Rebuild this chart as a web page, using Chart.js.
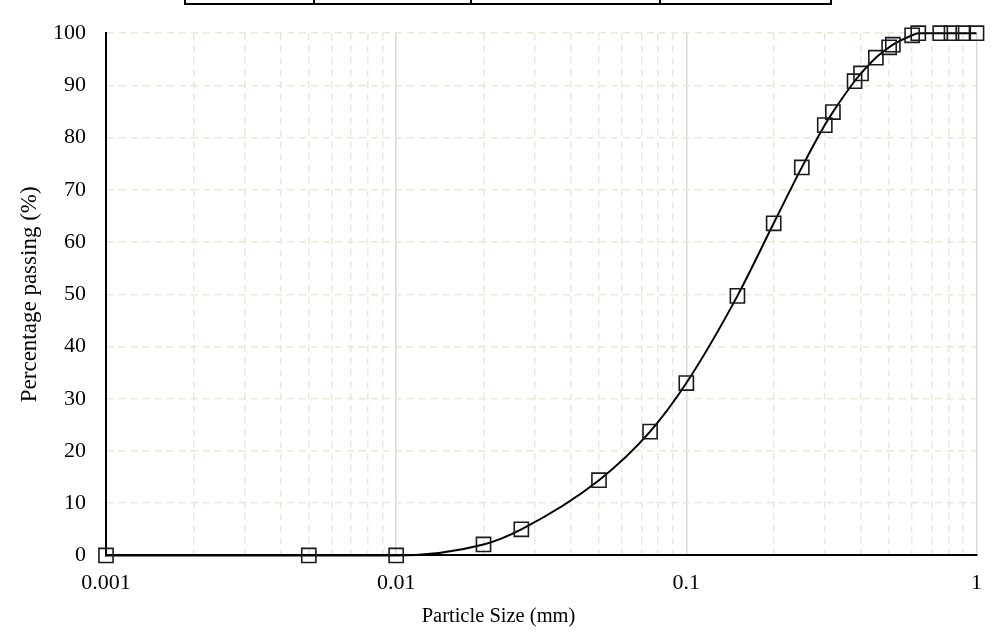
<!DOCTYPE html>
<html>
<head>
<meta charset="utf-8">
<title>Particle size distribution</title>
<script src="https://cdn.jsdelivr.net/npm/chart.js@4.4.1/dist/chart.umd.min.js"></script>
<style>
  body { margin: 0; background: #fff; }
  #wrap { position: relative; width: 997px; height: 636px; }
  /* edge of a table from the page above the figure */
  .tbl { position: absolute; top: 0; height: 3px; border-bottom: 2px solid #000; border-left: 2px solid #000; }
  .tbl.last { border-right: 2px solid #000; }
</style>
</head>
<body>
<div id="wrap">
  <div class="tbl" style="left:184px;width:128px"></div>
  <div class="tbl" style="left:313px;width:156px"></div>
  <div class="tbl" style="left:470px;width:188px"></div>
  <div class="tbl last" style="left:659px;width:169px"></div>
  <canvas id="psd"></canvas>
</div>
<script>
// sieve / hydrometer results
const sizes = [0.001, 0.005, 0.01, 0.02, 0.027, 0.05, 0.075, 0.1, 0.15, 0.2, 0.25, 0.3, 0.32, 0.38, 0.4, 0.45, 0.5, 0.515, 0.6, 0.63, 0.75, 0.82, 0.9, 1.0];
const passing = [0, 0, 0, 2.1, 5.0, 14.4, 23.7, 33.0, 49.7, 63.6, 74.3, 82.4, 84.9, 90.8, 92.3, 95.3, 97.3, 97.8, 99.6, 100, 100, 100, 100, 100];

// axis ticks
const xDecades = [0.001, 0.01, 0.1, 1];
const yMin = 0;
const yMax = 100;
const yStep = 10;

const serif = "'Liberation Serif', 'DejaVu Serif', serif";
const gridMinor = "#ebe7d5";
const gridMajor = "#d9d9d9";

// gridline positions: 1..9 within every decade
const xGrid = [];
for (let d = 0; d < xDecades.length - 1; d++) {
  for (let k = 1; k < 10; k++) {
    xGrid.push(k === 1 ? xDecades[d] : parseFloat((k * xDecades[d]).toPrecision(6)));
  }
}
xGrid.push(xDecades[xDecades.length - 1]);

const isDecade = (v) => xDecades.some((t) => Math.abs(t - v) < 1e-12);

const points = sizes.map((s, i) => ({ x: s, y: passing[i] }));

new Chart(document.getElementById("psd"), {
  type: "line",
  data: {
    datasets: [
      {
        label: "Passing",
        data: points,
        borderColor: "#000",
        borderWidth: 2,
        cubicInterpolationMode: "monotone",
        pointStyle: "rect",
        pointRadius: 10,
        pointHoverRadius: 10,
        pointBorderWidth: 1.6,
        pointBorderColor: "#1a1a1a",
        pointBackgroundColor: "rgba(0,0,0,0)",
        clip: false,
      },
    ],
  },
  options: {
    responsive: true,
    maintainAspectRatio: false,
    animation: false,
    layout: { padding: { top: 32, right: 0, bottom: 0, left: 0 } },
    plugins: {
      legend: { display: false },
      tooltip: { enabled: false },
      title: {
        display: true,
        position: "bottom",
        text: "Particle Size (mm)",
        color: "#000",
        font: { family: serif, size: 20.5, weight: "normal" },
        padding: { top: 0, bottom: 7 },
      },
    },
    scales: {
      x: {
        type: "logarithmic",
        min: xDecades[0],
        max: xDecades[xDecades.length - 1],
        afterBuildTicks: (scale) => {
          scale.ticks = xGrid.map((v) => ({ value: v, major: isDecade(v) }));
        },
        afterFit: (scale) => { scale.height = 49; },
        ticks: {
          autoSkip: false,
          maxRotation: 0,
          padding: 15,
          color: "#000",
          font: { family: serif, size: 22 },
          callback: (v) => (isDecade(v) ? String(v) : ""),
        },
        grid: {
          drawTicks: false,
          lineWidth: 1.5,
          color: (ctx) => (ctx.tick && isDecade(ctx.tick.value) ? gridMajor : gridMinor),
        },
        border: {
          color: "#000",
          width: 2,
          dash: (ctx) => (ctx.tick && !isDecade(ctx.tick.value) ? [7, 5] : []),
        },
      },
      y: {
        min: yMin,
        max: yMax,
        afterFit: (scale) => { scale.width = 106; },
        ticks: {
          stepSize: yStep,
          padding: 20,
          color: "#000",
          font: { family: serif, size: 22 },
        },
        title: {
          display: true,
          text: "Percentage passing (%)",
          color: "#000",
          font: { family: serif, size: 23 },
          padding: { top: 16, bottom: 0 },
        },
        grid: {
          drawTicks: false,
          lineWidth: 1.5,
          color: (ctx) => (ctx.tick && ctx.tick.value === yMin ? "rgba(0,0,0,0)" : gridMinor),
        },
        border: {
          color: "#000",
          width: 2,
          dash: [7, 5],
        },
      },
      yRight: {
        position: "right",
        display: true,
        afterFit: (scale) => { scale.width = 12; },
        ticks: { display: false },
        grid: { display: false },
        border: { display: false },
      },
    },
  },
});
</script>
</body>
</html>
